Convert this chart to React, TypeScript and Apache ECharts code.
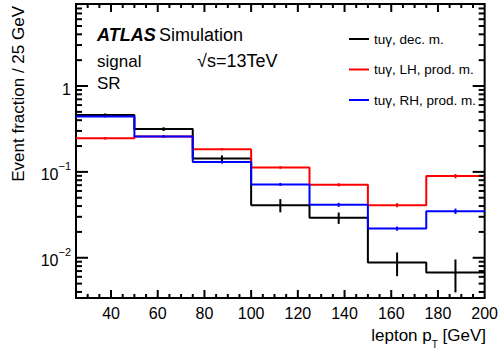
import React, { useEffect, useRef } from 'react';
import * as echarts from 'echarts';

const binEdges = [25, 50, 75, 100, 125, 150, 175, 200];
const seriesNames = ['tuγ, dec. m.', 'tuγ, LH, prod. m.', 'tuγ, RH, prod. m.'];
const decValues = [0.459, 0.315, 0.1436, 0.041, 0.0292, 0.0088, 0.00675];
const decErrors = [0.02, 0.016, 0.012, 0.0072, 0.0044, 0.0027, 0.0028];
const lhValues = [0.246, 0.258, 0.184, 0.1128, 0.0708, 0.041, 0.0893];
const lhErrors = [0.008, 0.008, 0.006, 0.004, 0.003, 0.0022, 0.005];
const rhValues = [0.443, 0.259, 0.13, 0.0715, 0.0414, 0.0219, 0.0349];
const rhErrors = [0.012, 0.008, 0.005, 0.003, 0.0022, 0.0012, 0.0025];
const colors = ['#000000', '#ff0000', '#0000ff'];

const xMajorTicks = [40, 60, 80, 100, 120, 140, 160, 180];
const xMinorTicks = [30, 35, 45, 50, 55, 65, 70, 75, 85, 90, 95, 105, 110, 115, 125, 130, 135, 145, 150, 155, 165, 170, 175, 185, 190, 195];
const yMajorTicks = [0.01, 0.1, 1];
const yMinorTicks = [0.004, 0.005, 0.006, 0.007, 0.008, 0.009, 0.02, 0.03, 0.04, 0.05, 0.06, 0.07, 0.08, 0.09, 0.2, 0.3, 0.4, 0.5, 0.6, 0.7, 0.8, 0.9, 2, 3, 4, 5, 6, 7, 8, 9];

const X_MIN = 25;
const X_MAX = 200;
const Y_MIN = 0.0034;
const Y_MAX = 9.02;

const FONT = '"Liberation Sans", Arial, Helvetica, sans-serif';

function stepData(values: number[]) {
  const d = values.map((v, i) => [binEdges[i], v]);
  d.push([binEdges[binEdges.length - 1], values[values.length - 1]]);
  return d;
}

function errData(values: number[], errs: number[]) {
  return values.map((v, i) => [(binEdges[i] + binEdges[i + 1]) / 2, v, errs[i]]);
}

export default function App() {
  const ref = useRef<HTMLDivElement>(null);
  useEffect(() => {
    if (!ref.current) return;
    const chart = echarts.init(ref.current, undefined, { renderer: 'svg' });
    const allValues = [decValues, lhValues, rhValues];
    const allErrors = [decErrors, lhErrors, rhErrors];

    const tickData: number[][] = [];
    xMajorTicks.forEach((v) => tickData.push([v, 1, 8, 0]));
    xMinorTicks.forEach((v) => tickData.push([v, 1, 4, 0]));
    yMajorTicks.forEach((v) => tickData.push([100, v, 12, 1]));
    yMinorTicks.forEach((v) => tickData.push([100, v, 6, 1]));

    const series: any[] = [];
    allValues.forEach((vals, i) => {
      series.push({
        name: seriesNames[i],
        type: 'line',
        step: 'end',
        symbol: 'none',
        data: stepData(vals),
        lineStyle: { color: colors[i], width: 2 },
        itemStyle: { color: colors[i] },
        z: 2 + i,
      });
    });
    allValues.forEach((vals, i) => {
      const c = colors[i];
      series.push({
        name: seriesNames[i] + ' err',
        type: 'custom',
        data: errData(vals, allErrors[i]),
        encode: { x: 0, y: 1 },
        z: 2 + i,
        silent: true,
        renderItem: (params: any, api: any) => {
          const x = api.value(0);
          const v = api.value(1);
          const e = api.value(2);
          const p1 = api.coord([x, v - e]);
          const p2 = api.coord([x, v + e]);
          return {
            type: 'line',
            shape: { x1: p1[0], y1: p1[1], x2: p2[0], y2: p2[1] },
            style: { stroke: c, lineWidth: 2 },
          };
        },
      });
    });
    series.push({
      name: 'ticks',
      type: 'custom',
      data: tickData,
      encode: { x: 0, y: 1 },
      silent: true,
      z: 10,
      clip: false,
      renderItem: (params: any, api: any) => {
        const cs = params.coordSys;
        const len = api.value(2);
        const kind = api.value(3);
        const p = api.coord([api.value(0), api.value(1)]);
        const st = { stroke: '#000', lineWidth: 2 };
        if (kind === 0) {
          const yb = cs.y + cs.height;
          const yt = cs.y;
          return {
            type: 'group',
            children: [
              { type: 'line', shape: { x1: p[0], y1: yb, x2: p[0], y2: yb - len }, style: st },
              { type: 'line', shape: { x1: p[0], y1: yt, x2: p[0], y2: yt + len }, style: st },
            ],
          };
        }
        const xl = cs.x;
        const xr = cs.x + cs.width;
        return {
          type: 'group',
          children: [
            { type: 'line', shape: { x1: xl, y1: p[1], x2: xl + len, y2: p[1] }, style: st },
            { type: 'line', shape: { x1: xr, y1: p[1], x2: xr - len, y2: p[1] }, style: st },
          ],
        };
      },
    });

    chart.setOption({
      animation: false,
      textStyle: { fontFamily: FONT },
      grid: {
        left: 76,
        top: 4,
        width: 409,
        height: 294,
        show: true,
        borderColor: '#000',
        borderWidth: 2,
        backgroundColor: 'transparent',
      },
      legend: {
        data: seriesNames,
        orient: 'vertical',
        left: 344,
        top: 26,
        itemWidth: 20,
        itemHeight: 2,
        icon: 'rect',
        itemGap: 14.5,
        textStyle: { fontSize: 13.5, color: '#000', fontFamily: FONT, lineHeight: 16 },
      },
      xAxis: {
        type: 'value',
        min: X_MIN,
        max: X_MAX,
        interval: 5,
        axisLine: { show: false },
        axisTick: { show: false },
        splitLine: { show: false },
        axisLabel: {
          color: '#000',
          fontSize: 16,
          fontFamily: FONT,
          margin: 7,
          formatter: (v: number) => (Math.abs(v % 20) < 1e-9 ? String(v) : ''),
        },
      },
      yAxis: {
        type: 'log',
        logBase: 10,
        min: Y_MIN,
        max: Y_MAX,
        axisLine: { show: false },
        axisTick: { show: false },
        splitLine: { show: false },
        minorTick: { show: false },
        axisLabel: {
          color: '#000',
          fontSize: 16,
          fontFamily: FONT,
          margin: 5,
          formatter: (v: number) => {
            const l = Math.log10(v);
            const k = Math.round(l);
            if (Math.abs(l - k) > 1e-6) return '';
            if (k === 0) return '{b|1}';
            return '{b|10}{s|−' + Math.abs(k) + '}';
          },
          rich: {
            b: { fontSize: 16, lineHeight: 22, verticalAlign: 'bottom', color: '#000', fontFamily: FONT },
            s: { fontSize: 11, lineHeight: 11, verticalAlign: 'top', color: '#000', fontFamily: FONT },
          },
        },
      },
      graphic: [
        {
          type: 'text',
          x: 18,
          y: 6,
          rotation: Math.PI / 2,
          style: {
            text: 'Event fraction / 25 GeV',
            fontSize: 17,
            fontFamily: FONT,
            fill: '#000',
            align: 'right',
            verticalAlign: 'middle',
          },
        },
        {
          type: 'text',
          x: 486,
          y: 338,
          style: {
            text: '{a|lepton p}{t|T}{a| [GeV]}',
            fontFamily: FONT,
            fill: '#000',
            align: 'right',
            verticalAlign: 'middle',
            rich: {
              a: { fontSize: 17, lineHeight: 23, verticalAlign: 'top', fontFamily: FONT, fill: '#000' },
              t: { fontSize: 10, lineHeight: 10, verticalAlign: 'bottom', fontFamily: FONT, fill: '#000' },
            },
          },
        },
        {
          type: 'text',
          x: 97,
          y: 35,
          style: {
            text: '{b|ATLAS} {n|Simulation}',
            fontFamily: FONT,
            fill: '#000',
            verticalAlign: 'middle',
            rich: {
              b: { fontSize: 18, fontWeight: 'bold', fontStyle: 'italic', fontFamily: FONT, fill: '#000' },
              n: { fontSize: 18, fontFamily: FONT, fill: '#000' },
            },
          },
        },
        {
          type: 'text',
          x: 97,
          y: 61,
          style: { text: 'signal', fontSize: 17, fontFamily: FONT, fill: '#000', verticalAlign: 'middle' },
        },
        {
          type: 'text',
          x: 197,
          y: 61,
          style: { text: '√s=13TeV', fontSize: 18, fontFamily: FONT, fill: '#000', verticalAlign: 'middle' },
        },
        {
          type: 'text',
          x: 97,
          y: 83,
          style: { text: 'SR', fontSize: 17, fontFamily: FONT, fill: '#000', verticalAlign: 'middle' },
        },
      ],
      series,
    });
    return () => chart.dispose();
  }, []);
  return <div ref={ref} style={{ position: 'absolute', left: 0, top: 0, width: 501, height: 353 }} />;
}
